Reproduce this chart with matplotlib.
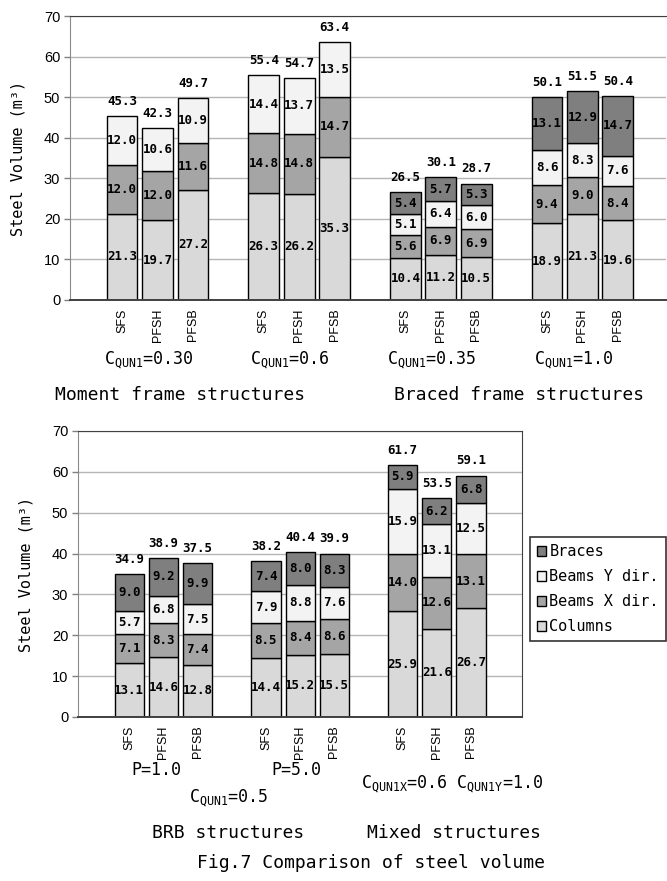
import matplotlib.pyplot as plt
import matplotlib.transforms as mtransforms
from matplotlib.patches import Patch

plt.rcParams['mathtext.fontset'] = 'custom'
plt.rcParams['mathtext.rm'] = 'DejaVu Sans Mono'

MONO = 'DejaVu Sans Mono'
NARROW = ['Liberation Sans Narrow', 'Liberation Sans']

models = ['SFS', 'PFSH', 'PFSB']
components = ['Columns', 'Beams X dir.', 'Beams Y dir.', 'Braces']
colors = ['#d9d9d9', '#a5a5a5', '#f3f3f3', '#7f7f7f']

# upper panel: moment frames (no braces) and braced frames
top_groups = [r'$\mathrm{C}_{\mathrm{QUN1}}$=0.30', r'$\mathrm{C}_{\mathrm{QUN1}}$=0.6',
              r'$\mathrm{C}_{\mathrm{QUN1}}$=0.35', r'$\mathrm{C}_{\mathrm{QUN1}}$=1.0']
top_columns = [21.3, 19.7, 27.2, 26.3, 26.2, 35.3, 10.4, 11.2, 10.5, 18.9, 21.3, 19.6]
top_beams_x = [12.0, 12.0, 11.6, 14.8, 14.8, 14.7, 5.6, 6.9, 6.9, 9.4, 9.0, 8.4]
top_beams_y = [12.0, 10.6, 10.9, 14.4, 13.7, 13.5, 5.1, 6.4, 6.0, 8.6, 8.3, 7.6]
top_braces = [0, 0, 0, 0, 0, 0, 5.4, 5.7, 5.3, 13.1, 12.9, 14.7]
top_totals = [45.3, 42.3, 49.7, 55.4, 54.7, 63.4, 26.5, 30.1, 28.7, 50.1, 51.5, 50.4]

# lower panel: BRB and mixed structures
bot_columns = [13.1, 14.6, 12.8, 14.4, 15.2, 15.5, 25.9, 21.6, 26.7]
bot_beams_x = [7.1, 8.3, 7.4, 8.5, 8.4, 8.6, 14.0, 12.6, 13.1]
bot_beams_y = [5.7, 6.8, 7.5, 7.9, 8.8, 7.6, 15.9, 13.1, 12.5]
bot_braces = [9.0, 9.2, 9.9, 7.4, 8.0, 8.3, 5.9, 6.2, 6.8]
bot_totals = [34.9, 38.9, 37.5, 38.2, 40.4, 39.9, 61.7, 53.5, 59.1]


def positions(n_groups):
    return [g * 4 + i for g in range(n_groups) for i in range(3)]


def stacked(ax, xs, layers, totals, width):
    bottoms = [0.0] * len(xs)
    for vals, col in zip(layers, colors):
        for j, (x, v) in enumerate(zip(xs, vals)):
            if v <= 0:
                continue
            ax.bar(x, v, width, bottom=bottoms[j], color=col,
                   edgecolor='black', linewidth=1.0, zorder=2)
            ax.text(x, bottoms[j] + v / 2, f'{v:.1f}', ha='center', va='center',
                    fontsize=9, fontweight='bold', family=MONO, zorder=3)
            bottoms[j] += v
    for x, b, t in zip(xs, bottoms, totals):
        ax.text(x, b + 2.0, f'{t:.1f}', ha='center', va='bottom',
                fontsize=9, fontweight='bold', family=MONO)


def style(ax, xs, xlim, right_spine):
    ax.set_xlim(*xlim)
    ax.set_ylim(0, 70)
    ax.set_yticks(range(0, 71, 10))
    ax.set_axisbelow(True)
    ax.yaxis.grid(True, color='#b5b5b5', linewidth=1.0)
    ax.set_xticks(xs)
    ax.set_xticklabels(models * (len(xs) // 3), rotation=90, family=NARROW, fontsize=9)
    ax.tick_params(axis='x', length=0, pad=6)
    ax.tick_params(axis='y', length=4, width=1, color='#808080', labelsize=10.5, pad=3)
    for lab in ax.get_yticklabels():
        lab.set_family(NARROW)
    ax.spines['left'].set_color('#8a8a8a')
    ax.spines['top'].set_color('#404040')
    ax.spines['bottom'].set_color('#404040')
    ax.spines['bottom'].set_linewidth(1.4)
    ax.spines['right'].set_color('#404040')
    ax.spines['right'].set_visible(right_spine)
    ax.set_ylabel('Steel Volume (m³)', family=MONO, fontsize=11, labelpad=13)


fig = plt.figure(figsize=(6.67, 8.81), dpi=100)
ax1 = fig.add_axes([0.105, 0.6595, 0.893, 0.3223])
ax2 = fig.add_axes([0.117, 0.1862, 0.666, 0.3246])

xs1 = positions(4)
stacked(ax1, xs1, [top_columns, top_beams_x, top_beams_y, top_braces], top_totals, 0.87)
style(ax1, xs1, (-1.47, 15.35), False)

xs2 = positions(3)
stacked(ax2, xs2, [bot_columns, bot_beams_x, bot_beams_y, bot_braces], bot_totals, 0.85)
style(ax2, xs2, (-1.5, 11.5), True)

# group captions below the tick labels
tr1 = mtransforms.blended_transform_factory(ax1.transData, ax1.transAxes)
for g, lab in enumerate(top_groups):
    ax1.text(g * 4 + 0.75, -0.21, lab, transform=tr1, ha='center', va='center',
             family=MONO, fontsize=12)
ax1.text(1.65, -0.335, 'Moment frame structures', transform=tr1, ha='center',
         va='center', family=MONO, fontsize=13)
ax1.text(11.2, -0.335, 'Braced frame structures', transform=tr1, ha='center',
         va='center', family=MONO, fontsize=13)

tr2 = mtransforms.blended_transform_factory(ax2.transData, ax2.transAxes)
ax2.text(0.8, -0.185, 'P=1.0', transform=tr2, ha='center', va='center',
         family=MONO, fontsize=12)
ax2.text(4.9, -0.185, 'P=5.0', transform=tr2, ha='center', va='center',
         family=MONO, fontsize=12)
ax2.text(2.9, -0.283, r'$\mathrm{C}_{\mathrm{QUN1}}$=0.5', transform=tr2, ha='center',
         va='center', family=MONO, fontsize=12)
ax2.text(9.45, -0.232, r'$\mathrm{C}_{\mathrm{QUN1X}}$=0.6 $\mathrm{C}_{\mathrm{QUN1Y}}$=1.0',
         transform=tr2, ha='center', va='center', family=MONO, fontsize=12)
ax2.text(2.9, -0.405, 'BRB structures', transform=tr2, ha='center',
         va='center', family=MONO, fontsize=13)
ax2.text(9.5, -0.405, 'Mixed structures', transform=tr2, ha='center',
         va='center', family=MONO, fontsize=13)

handles = [Patch(facecolor=c, edgecolor='black', linewidth=1.0) for c in colors][::-1]
leg = fig.legend(handles, components[::-1], loc='upper left',
                 bbox_to_anchor=(0.795, 0.39), frameon=True, fancybox=False,
                 prop={'family': MONO, 'size': 11}, handlelength=0.6,
                 handleheight=0.6, handletextpad=0.2, borderpad=0.45,
                 labelspacing=0.65, borderaxespad=0)
leg.get_frame().set_edgecolor('black')
leg.get_frame().set_linewidth(1.2)

fig.text(0.556, 0.0205, 'Fig.7 Comparison of steel volume', ha='center',
         va='center', family=MONO, fontsize=13)

fig.savefig('out.png', dpi=100)
